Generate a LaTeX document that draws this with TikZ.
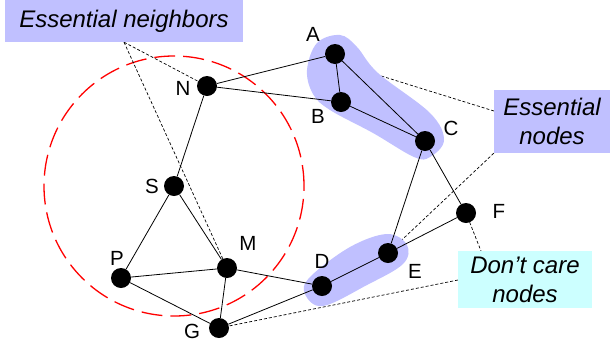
\documentclass[tikz,border=0pt]{standalone}
\usepackage{fontspec}
\setmainfont{Liberation Sans}
\definecolor{lav}{RGB}{192,192,255}
\definecolor{lcyan}{RGB}{204,255,255}
\definecolor{ringred}{RGB}{255,0,0}
\pgfdeclarelayer{bg}
\pgfsetlayers{bg,main}
\tikzset{
  dot/.style={circle,fill=black,inner sep=0pt,minimum size=20pt},
  lbl/.style={inner sep=0pt,font=\fontsize{20.5}{24}\selectfont},
  edge/.style={line width=0.8pt},
  callout/.style={line width=0.7pt,dash pattern=on 3pt off 2pt},
  blob/.style={draw=lav,line cap=round,line join=round},
  boxtext/.style={inner sep=0pt,align=center,font=\fontsize{24}{29}\selectfont\itshape},
}
\begin{document}
\begin{tikzpicture}[x=1pt,y=-1pt]
\useasboundingbox (0,0) rectangle (610,346);
% nodes
\node[dot] (A) at (335,54) {};
\node[dot] (B) at (341,102) {};
\node[dot] (C) at (425,141) {};
\node[dot] (N) at (207,86) {};
\node[dot] (S) at (174,186) {};
\node[dot] (P) at (121,278) {};
\node[dot] (M) at (227,268) {};
\node[dot] (G) at (219,328) {};
\node[dot] (D) at (322,286) {};
\node[dot] (E) at (388,253) {};
\node[dot] (F) at (466,213) {};
% labels
\node[lbl] (lA) at (313,34) {A};
\node[lbl] (lB) at (318,116) {B};
\node[lbl] (lC) at (451,128) {C};
\node[lbl] (lN) at (183,88) {N};
\node[lbl] (lS) at (152,186) {S};
\node[lbl] (lP) at (117,258) {P};
\node[lbl] (lM) at (248,243) {M};
\node[lbl] (lG) at (192,331) {G};
\node[lbl] (lD) at (322,261) {D};
\node[lbl] (lE) at (415,271) {E};
\node[lbl] (lF) at (499,211) {F};
% boxes
\node[boxtext,fill=lav,minimum width=238pt,minimum height=42pt] (en) at (124,21) {Essential neighbors};
\node[boxtext,fill=lav,minimum width=116pt,minimum height=63pt] (ens) at (552,121.5) {Essential\\nodes};
\node[boxtext,fill=lcyan,minimum width=134pt,minimum height=57pt] (dc) at (525,279.5) {Don’t care\\nodes};
\coordinate (blobAC) at (378,75);
\coordinate (ensTop) at (494,111);
\coordinate (dcTop) at (481,251);
\coordinate (dcLeft) at (458,280);
% background
\begin{pgfonlayer}{bg}
  \draw[ringred,line width=1.3pt,dash pattern=on 21pt off 8pt] (S.center) circle[radius=130pt];
  \draw[callout] (en.south) -- (N.center);
  \draw[callout] (en.south) -- (M.center);
  \draw[callout] (ensTop) -- (blobAC);
  \draw[callout] (ens.south west) -- (E.center);
  \draw[callout] (F.center) -- (dcTop);
  \draw[callout] (dcLeft) -- (G.center);
  \fill[lav] plot[smooth cycle,tension=0.6] coordinates {
    (340,35) (357,47) (378,73) (430,113) (444,140) (430,157) (414,157)
    (373,133) (330,110) (313,94) (307,70) (317,43)};
  \fill[lav] plot[smooth cycle,tension=0.6] coordinates {
    (387,234) (407,245) (403,264) (367,285) (323,306) (305,294) (310,277) (350,247)};
\end{pgfonlayer}
% edges
\draw[edge] (A) -- (N);
\draw[edge] (N) -- (B);
\draw[edge] (A) -- (B);
\draw[edge] (A) -- (C);
\draw[edge] (B) -- (C);
\draw[edge] (N) -- (S);
\draw[edge] (S) -- (P);
\draw[edge] (S) -- (M);
\draw[edge] (P) -- (M);
\draw[edge] (P) -- (G);
\draw[edge] (M) -- (G);
\draw[edge] (M) -- (D);
\draw[edge] (G) -- (D);
\draw[edge] (D) -- (E);
\draw[edge] (E) -- (C);
\draw[edge] (E) -- (F);
\draw[edge] (C) -- (F);
\end{tikzpicture}
\end{document}
